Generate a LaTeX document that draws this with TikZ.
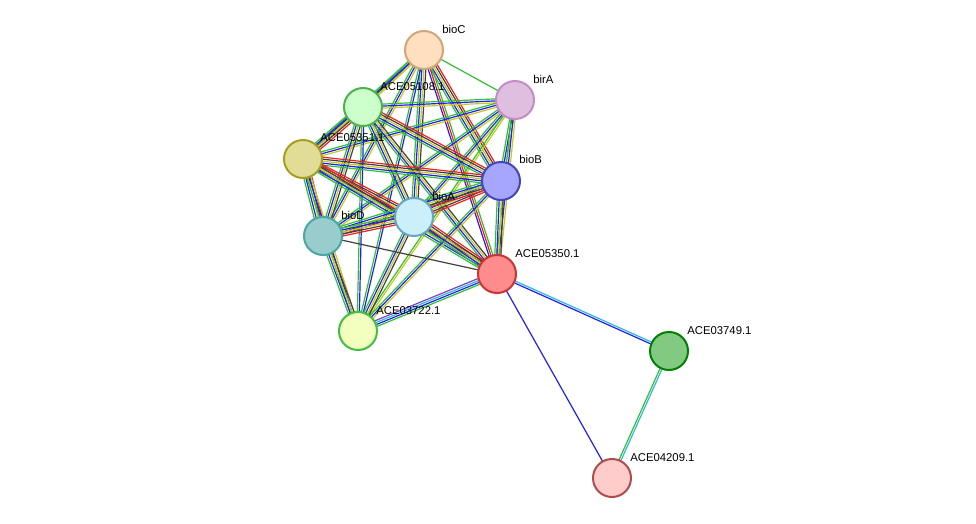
\documentclass[tikz,border=0pt]{standalone}
\usepackage{fontspec}
\setmainfont{Liberation Sans}
\usetikzlibrary{calc}
\definecolor{eg}{HTML}{30C030}
\definecolor{eb}{HTML}{2020F0}
\definecolor{ey}{HTML}{C8C820}
\definecolor{ek}{HTML}{404040}
\definecolor{er}{HTML}{F02020}
\definecolor{ec}{HTML}{30B8E0}
\definecolor{ep}{HTML}{8040C0}
\newcommand\medge[3]{\foreach \c/\o in #3{\draw[\c,line width=0.9pt] ($(#1)!\o pt!90:(#2)$) -- ($(#2)!\o pt!-90:(#1)$);}}
\tikzset{nd/.style={circle,minimum size=28.5pt,inner sep=0pt,line width=1.5pt},
lb/.style={font=\fontsize{8.5pt}{9pt}\selectfont,inner sep=0pt,anchor=south west}}
\begin{document}
\begin{tikzpicture}[x=0.75pt,y=-0.75pt]
\useasboundingbox (0,0) rectangle (976,524);
\coordinate (C) at (424,50);
\coordinate (R) at (515,100);
\coordinate (A8) at (363,107);
\coordinate (A1) at (303,159);
\coordinate (B) at (501,181);
\coordinate (A) at (414,217);
\coordinate (D) at (323,236);
\coordinate (A0) at (497,274);
\coordinate (A2) at (358,331);
\coordinate (A9) at (669,351);
\coordinate (A4) at (612,478);
\def\efull{eg/-3,eb/-1.5,ey/0,ek/1.5,er/3}
\def\emid{eg/-2.25,eb/-0.75,ey/0.75,ek/2.25}
\def\elt{eg/-1.5,eb/0,ey/1.5}
\medge{C}{R}{{eg/0}}
\medge{C}{A8}{\elt}
\medge{C}{A1}{\elt}
\medge{C}{B}{\efull}
\medge{C}{A}{\emid}
\medge{C}{D}{\elt}
\medge{C}{A0}{{eb/-1.5,er/0,eg/1.5}}
\medge{C}{A2}{{eg/-0.75,eb/0.75}}
\medge{R}{A8}{\elt}
\medge{R}{A1}{\elt}
\medge{R}{B}{\elt}
\medge{R}{A}{\elt}
\medge{R}{D}{\elt}
\medge{R}{A0}{\elt}
\medge{R}{A2}{{eg/-0.75,ey/0.75}}
\medge{A8}{A1}{\efull}
\medge{A8}{B}{\efull}
\medge{A8}{A}{\emid}
\medge{A8}{D}{\emid}
\medge{A8}{A0}{\emid}
\medge{A8}{A2}{{eg/-0.75,eb/0.75}}
\medge{A1}{B}{\efull}
\medge{A1}{A}{\efull}
\medge{A1}{D}{\efull}
\medge{A1}{A0}{\efull}
\medge{A1}{A2}{\elt}
\medge{B}{A}{\efull}
\medge{B}{D}{\efull}
\medge{B}{A0}{\emid}
\medge{B}{A2}{\elt}
\medge{A}{D}{\efull}
\medge{A}{A0}{\efull}
\medge{A}{A2}{\emid}
\medge{D}{A0}{{ek/0}}
\medge{D}{A2}{\emid}
\medge{A2}{A0}{{eg/-2.25,eb/-0.75,ec/0.75,ep/2.25}}
\medge{A0}{A9}{{eb/-0.75,ec/0.75}}
\medge{A0}{A4}{{eb/0}}
\medge{A9}{A4}{{eg/-0.75,ec/0.75}}
\node[nd,draw=brown!70,fill=orange!25] (nC) at (C) {};
\node[nd,draw=violet!45,fill=violet!25] (nR) at (R) {};
\node[nd,draw=green!40!gray,fill=green!20] (nA8) at (A8) {};
\node[nd,draw=olive!80,fill=yellow!55!gray!60] (nA1) at (A1) {};
\node[nd,draw=blue!45!gray,fill=blue!35!white] (nB) at (B) {};
\node[nd,draw=cyan!50!gray,fill=cyan!20] (nA) at (A) {};
\node[nd,draw=teal!70,fill=teal!40] (nD) at (D) {};
\node[nd,draw=red!60!gray,fill=red!45] (nA0) at (A0) {};
\node[nd,draw=green!50!gray,fill=green!20!yellow!25] (nA2) at (A2) {};
\node[nd,draw=green!50!black,fill=green!40!gray!70] (nA9) at (A9) {};
\node[nd,draw=red!40!gray,fill=red!20] (nA4) at (A4) {};
\node[lb] at (442,34) {bioC};
\node[lb] at (533,84) {birA};
\node[lb] at (380,91) {ACE05108.1};
\node[lb] at (320,142) {ACE05351.1};
\node[lb] at (519,164) {bioB};
\node[lb] at (432,201) {bioA};
\node[lb] at (341,220) {bioD};
\node[lb] at (515,258) {ACE05350.1};
\node[lb] at (376,315) {ACE03722.1};
\node[lb] at (687,335) {ACE03749.1};
\node[lb] at (630,462) {ACE04209.1};
\end{tikzpicture}
\end{document}
